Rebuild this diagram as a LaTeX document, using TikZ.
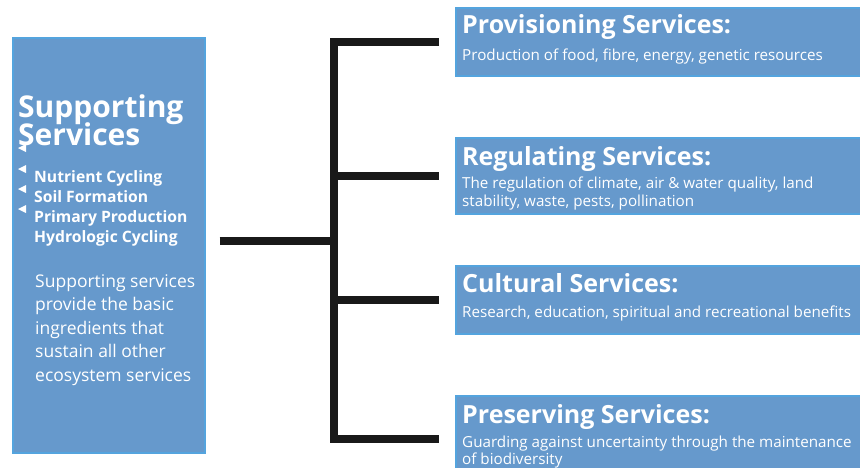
\documentclass[tikz,border=0pt]{standalone}
\usepackage{fontspec}
\setmainfont{Open Sans}
\usetikzlibrary{positioning}
\definecolor{svcblue}{RGB}{102,153,204}
\definecolor{svcedge}{RGB}{84,164,222}
\tikzset{
  svcbox/.style={draw=svcedge, fill=svcblue, line width=1.5pt, inner sep=0pt, anchor=north west},
  bigtitle/.style={anchor=base west, inner sep=0pt, text=white, font=\fontsize{30}{32}\selectfont\bfseries},
  item/.style={anchor=base west, inner sep=0pt, text=white, font=\fontsize{15.7}{17}\selectfont\bfseries},
  note/.style={anchor=base west, inner sep=0pt, text=white, font=\fontsize{17.5}{19}\selectfont},
  head/.style={anchor=base west, inner sep=0pt, text=white, font=\fontsize{25}{27}\selectfont\bfseries},
  info/.style={anchor=base west, inner sep=0pt, text=white, font=\fontsize{15.2}{17}\selectfont},
  link/.style={line width=7.5pt, black!90}
}
\begin{document}
\begin{tikzpicture}[x=1pt,y=-1pt]
  \useasboundingbox (0,0) rectangle (860,467);
  \clip (0,0) rectangle (860,467);
  % supporting services
  \node[svcbox, minimum width=192, minimum height=415] (supp) at (12,37) {};
  \foreach \y in {148,169,189,209}
    \fill[white] (18,\y) -- (26,\y-4) -- (26,\y+4) -- cycle;
  \node[bigtitle] (supp title) at (18,117) {Supporting};
  \node[bigtitle] (supp title2) at (18,145) {Services};
  \foreach \t [count=\i] in {Nutrient Cycling, Soil Formation, Primary Production, Hydrologic Cycling}
    \node[item] (item\i) at (34,{161.7+20.3*\i}) {\t};
  \foreach \t [count=\i] in {Supporting services, provide the basic, ingredients that, sustain all other, ecosystem services}
    \node[note] (note\i) at (35,{263.5+23.5*\i}) {\t};
  % the four services
  \node[svcbox, minimum width=430, minimum height=68] (prov) at (455,7) {};
  \node[head] (prov head) at (462,33) {Provisioning Services:};
  \node[info] (prov info) at (462,60) {Production of food, fibre, energy, genetic resources};
  \node[svcbox, minimum width=430, minimum height=76] (reg) at (455,137) {};
  \node[head] (reg head) at (462,165) {Regulating Services:};
  \node[info] (reg info) at (462,188) {The regulation of climate, air \& water quality, land};
  \node[info] (reg info2) at (462,206) {stability, waste, pests, pollination};
  \node[svcbox, minimum width=430, minimum height=68] (cult) at (455,265) {};
  \node[head] (cult head) at (462,292) {Cultural Services:};
  \node[info] (cult info) at (462,317) {Research, education, spiritual and recreational benefits};
  \node[svcbox, minimum width=430, minimum height=86] (pres) at (455,395) {};
  \node[head] (pres head) at (462,423) {Preserving Services:};
  \node[info] (pres info) at (462,447) {Guarding against uncertainty through the maintenance};
  \node[info] (pres info2) at (462,464) {of biodiversity};
  % connectors
  \coordinate (split) at (334,241);
  \draw[link] ([xshift=14]supp.east |- split) -- (split);
  \draw[link] ([xshift=-16]prov.west) -| (split) |- ([xshift=-16]pres.west);
  \foreach \b in {reg,cult}
    \draw[link] (split |- \b.west) -- ([xshift=-16]\b.west);
\end{tikzpicture}
\end{document}
